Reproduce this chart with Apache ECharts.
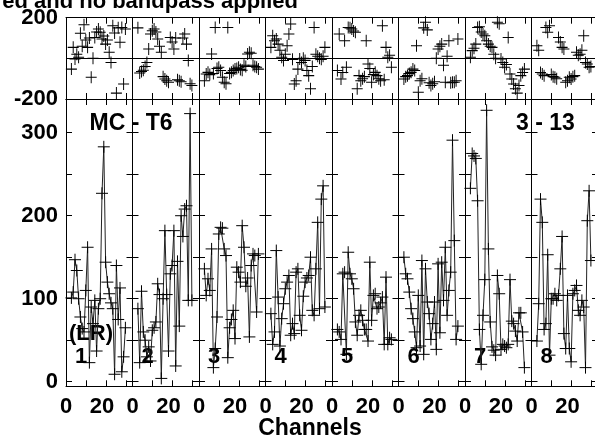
<!DOCTYPE html>
<html><head><meta charset="utf-8">
<script src="https://cdn.jsdelivr.net/npm/echarts@6/dist/echarts.min.js"></script>
<style>html,body{margin:0;padding:0;background:#fff}#c{width:595px;height:440px}</style>
</head><body><div id="c"></div>
<script>
// ---- data ----
const channels = [3,4,5,6,7,8,9,10,11,12,13,14,15,16,17,18,19,20,21,22,23,24,25,26,27,28,29,30,31,32,33];
const ifLabels = ['1','2','3','4','5','6','7','8'];
const ampIF1 = [101,108,147,134,100,78,64,60,110,162,23,90,70,98,37,88,100,227,283,144,120,106,95,88,9,140,75,113,12,30,65];
const ampIF2 = [88,23,109,60,50,30,42,25,62,65,72,118,105,4,100,182,105,37,130,140,182,19,145,67,200,175,208,212,98,323,98];
const ampIF3 = [136,104,124,110,160,17,40,78,178,186,185,160,152,29,65,75,86,52,138,132,120,188,162,115,125,54,140,154,152,84,154];
const ampIF4 = [82,45,60,158,102,43,76,94,112,120,128,56,70,58,132,136,80,62,103,120,125,128,150,86,80,136,192,88,220,236,90];
const ampIF5 = [63,60,51,130,132,33,156,130,124,112,72,56,80,86,74,63,63,49,144,74,104,106,88,90,95,102,45,126,45,53,51];
const ampIF6 = [150,130,124,108,88,76,60,41,104,43,146,33,136,96,82,51,70,96,39,142,59,144,98,162,80,110,132,291,170,51,67];
const ampIF7 = [233,275,272,269,218,63,21,80,123,327,160,72,42,38,32,128,106,39,45,43,41,45,123,73,70,61,49,83,83,60,17];
const ampIF8 = [49,94,220,192,63,70,153,32,100,100,106,98,104,136,175,58,40,104,40,24,106,110,116,86,80,98,90,17,194,230,146];
const phaseIF1 = [-53,54,-3,20,5,123,60,165,90,54,100,-93,0,103,130,144,128,95,110,70,90,30,-20,160,125,-171,150,79,152,-126,144];
const phaseIF2 = [150,-72,-65,-59,-40,-20,46,120,136,144,130,95,60,30,-90,-102,-110,-118,103,80,46,100,-105,-110,-115,100,120,70,-11,-125,-134];
const phaseIF3 = [-110,-77,-69,-80,21,-75,152,-50,-44,-60,-93,-118,-125,152,-75,-69,-60,-53,-50,-44,-55,-59,-34,-40,21,30,25,-34,-40,-44,-53];
const phaseIF4 = [54,111,87,95,70,40,5,-11,20,62,120,169,-5,-126,-110,-53,-3,-20,0,-10,-60,-85,-150,-40,152,20,10,0,-5,10,54];
const phaseIF5 = [-60,120,-102,-70,87,-44,152,150,144,135,128,-150,-85,-110,-100,-90,87,-28,-50,-118,-80,-69,-85,-100,-110,160,-105,54,5,15,-44];
const phaseIF6 = [-102,-90,-85,-75,-69,-53,-60,62,-167,-110,-100,150,178,140,-120,-134,-125,-115,0,46,60,70,-34,-118,10,87,-120,-118,-118,-110,95];
const phaseIF7 = [5,38,50,70,152,155,130,120,111,87,70,60,54,20,0,178,170,-3,-20,-44,-30,103,-77,-102,-126,-150,-171,-134,-85,-70,-53];
const phaseIF8 = [62,40,-70,-77,-85,152,128,160,-80,-90,-93,-100,103,80,54,46,-118,-110,-93,-102,-90,-85,30,15,20,40,111,-20,-28,-44,-40];
const phaseTickLabels = [-200, 200];
const ampTickLabels = [0, 100, 200, 300];
const ampTicks = [0, 50, 100, 150, 200, 250, 300];
const chanTickLabels = [0, 20];
const chanTicks = [11.1, 22.2, 33.3];

const amps = [ampIF1,ampIF2,ampIF3,ampIF4,ampIF5,ampIF6,ampIF7,ampIF8];
const phases = [phaseIF1,phaseIF2,phaseIF3,phaseIF4,phaseIF5,phaseIF6,phaseIF7,phaseIF8];

// ---- layout ----
const FONT = "'Liberation Sans', Arial, Helvetica, sans-serif";
const panelLeft0 = 66, panelW = 66.5;
const topTop = 17.7, topH = 81.3;
const botTop = 99, botH = 287.3;
const chanMax = 66.5 / 1.8;
const ampMin = -5.5, ampMax = 340.6;
const plus = 'path://M0,6L12,6M6,0L6,12';
const axisLineStyle = {color:'#000', width:1};
const lblStyle = {color:'#000', fontSize:22, fontWeight:'bold', fontFamily:FONT};

const grids = [], xAxes = [], yAxes = [], series = [], graphics = [];
for (let i = 0; i < 8; i++) {
  const left = panelLeft0 + panelW * i;
  grids.push({left:left, top:topTop, width:panelW, height:topH, containLabel:false, outerBoundsMode:'none'});
}
for (let i = 0; i < 8; i++) {
  const left = panelLeft0 + panelW * i;
  grids.push({left:left, top:botTop, width:panelW, height:botH, containLabel:false, outerBoundsMode:'none'});
}
for (let g = 0; g < 16; g++) {
  const isBottomRow = g >= 8;
  xAxes.push({gridIndex:g, type:'value', min:0, max:chanMax, position:'bottom',
    axisLine:{show:true, onZero:false, lineStyle:axisLineStyle},
    axisTick:{show:true, inside:true, length:6, customValues:chanTicks, lineStyle:axisLineStyle},
    axisLabel:Object.assign({show:isBottomRow, customValues:chanTickLabels, margin:10}, lblStyle),
    splitLine:{show:false}});
  xAxes.push({gridIndex:g, type:'value', min:0, max:chanMax, position:'top',
    axisLine:{show:true, onZero:false, lineStyle:axisLineStyle},
    axisTick:{show:true, inside:true, length:6, customValues:chanTicks, lineStyle:axisLineStyle},
    axisLabel:{show:false}, splitLine:{show:false}});
}
for (let i = 0; i < 8; i++) {
  yAxes.push({gridIndex:i, type:'value', min:-200, max:200, position:'left',
    axisLine:{show:true, onZero:false, lineStyle:axisLineStyle},
    axisTick:{show:false},
    axisLabel:Object.assign({show:i===0, customValues:phaseTickLabels, margin:8}, lblStyle),
    splitLine:{show:false}});
}
for (let i = 0; i < 8; i++) {
  yAxes.push({gridIndex:8+i, type:'value', min:ampMin, max:ampMax, position:'left',
    axisLine:{show:true, onZero:false, lineStyle:axisLineStyle},
    axisTick:{show:true, inside:true, length:6, customValues:ampTicks, lineStyle:axisLineStyle},
    axisLabel:Object.assign({show:i===0, customValues:ampTickLabels, margin:8}, lblStyle),
    splitLine:{show:false}});
  yAxes.push({gridIndex:8+i, type:'value', min:ampMin, max:ampMax, position:'right',
    axisLine:{show:true, onZero:false, lineStyle:axisLineStyle},
    axisTick:{show:true, inside:true, length:6, customValues:ampTicks, lineStyle:axisLineStyle},
    axisLabel:{show:false}, splitLine:{show:false}});
}
for (let i = 0; i < 8; i++) {
  series.push({type:'scatter', xAxisIndex:2*i, yAxisIndex:i, silent:true,
    data: channels.map((c,k)=>[c, phases[i][k]]),
    symbol:plus, symbolSize:[11,12],
    itemStyle:{color:'#000', borderColor:'#000', borderWidth:1, opacity:1},
    markLine:{silent:true, symbol:['none','none'], label:{show:false},
      lineStyle:{color:'#000', width:1, type:'solid'}, data:[{yAxis:0}], animation:false}});
  series.push({type:'line', xAxisIndex:2*(8+i), yAxisIndex:8+2*i, silent:true,
    data: channels.map((c,k)=>[c, amps[i][k]]),
    symbol:plus, symbolSize:12, showSymbol:true, showAllSymbol:true,
    lineStyle:{color:'#222', width:1},
    itemStyle:{color:'#000', borderColor:'#000', borderWidth:1}});
  graphics.push({type:'text', style:Object.assign({text:ifLabels[i], x:panelLeft0 + panelW*i + 15, y:357, align:'center', verticalAlign:'middle'}, lblStyle)});
}
const bigStyle = {fill:'#000', fontSize:23, fontWeight:'bold', fontFamily:FONT};
graphics.push({type:'text', style:Object.assign({text:'ed and no bandpass applied', x:298, y:2, align:'right', verticalAlign:'middle'}, bigStyle, {fontSize:22})});
graphics.push({type:'text', style:Object.assign({text:'MC - T6', x:131, y:124, align:'center', verticalAlign:'middle'}, bigStyle)});
graphics.push({type:'text', style:Object.assign({text:'3 - 13', x:545.5, y:124, align:'center', verticalAlign:'middle'}, bigStyle)});
graphics.push({type:'text', style:Object.assign({text:'(LR)', x:91, y:334, align:'center', verticalAlign:'middle'}, bigStyle, {fontSize:22})});
graphics.push({type:'text', style:Object.assign({text:'Channels', x:310, y:429, align:'center', verticalAlign:'middle'}, bigStyle)});
graphics.forEach(g => { if (g.style.color) { g.style.fill = g.style.color; delete g.style.color; } });

const chart = echarts.init(document.getElementById('c'), null, {renderer:'canvas'});
chart.setOption({
  animation:false,
  backgroundColor:'#fff',
  textStyle:{fontFamily:FONT},
  grid:grids, xAxis:xAxes, yAxis:yAxes, series:series, graphic:graphics
});
</script>
</body></html>
